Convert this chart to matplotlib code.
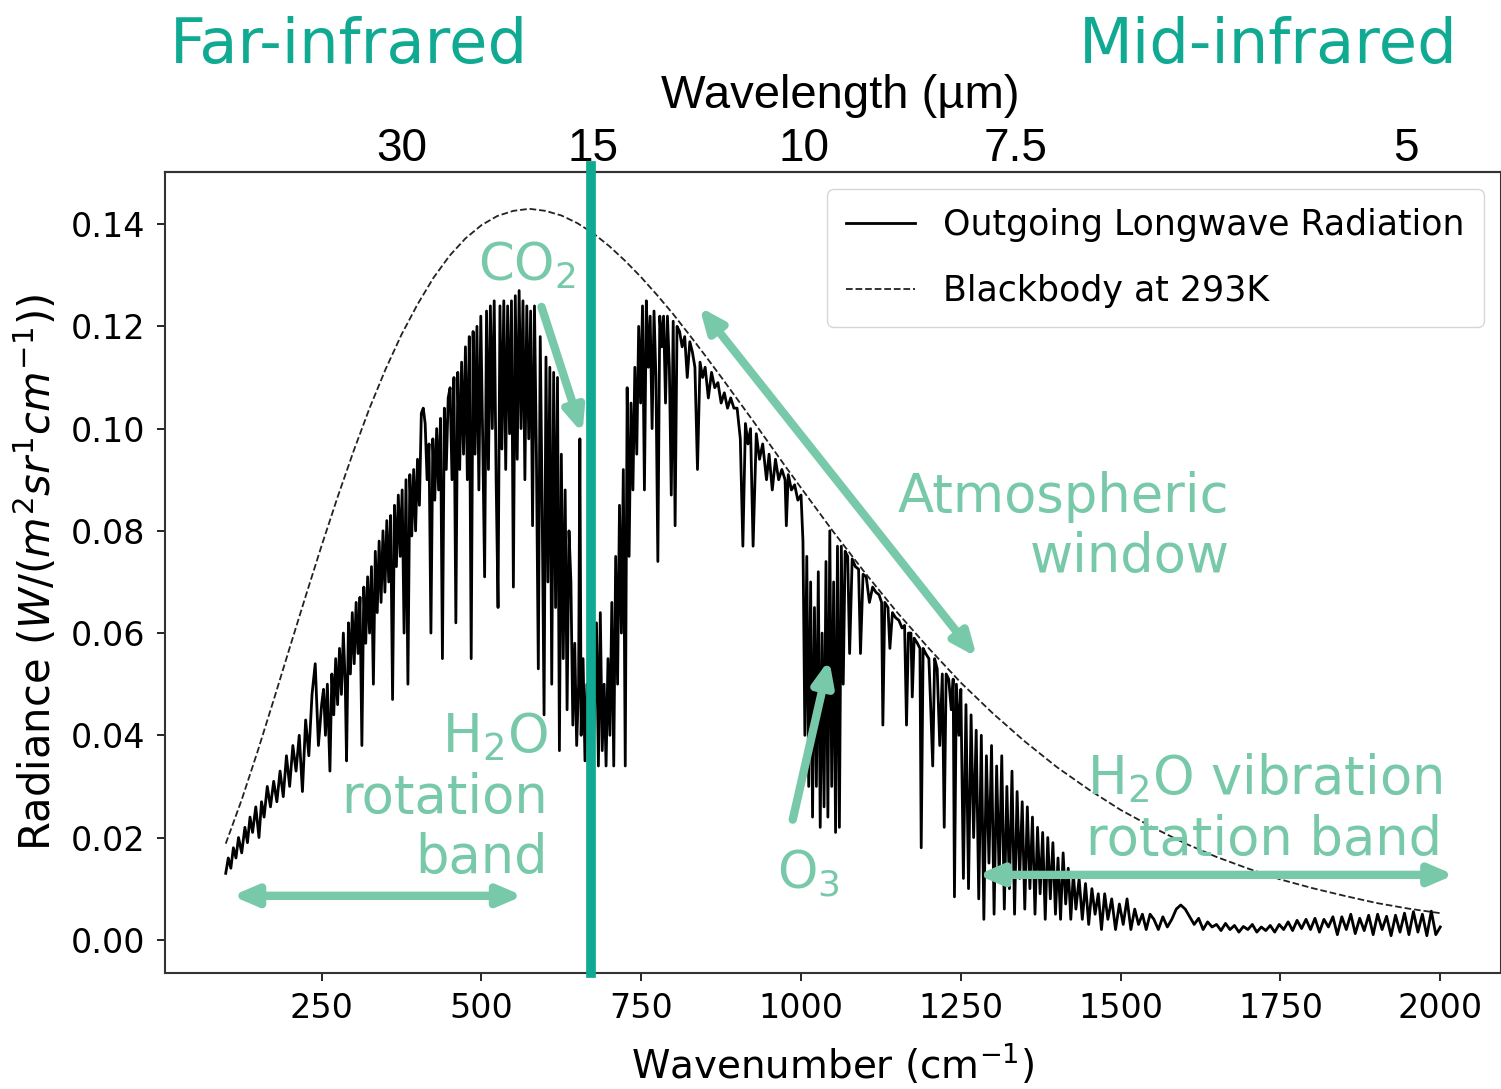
import numpy as np
import matplotlib
matplotlib.use("Agg")
import matplotlib.pyplot as plt

# ---- values ----
# blackbody at 293 K, W/(m^2 sr cm^-1)
bb_wn = list(range(100, 1000, 25)) + list(range(1000, 2001, 50))
bb_rad = [0.0188, 0.0274, 0.0369, 0.0469, 0.0571, 0.0672, 0.0771, 0.0866,
          0.0956, 0.1040, 0.1116, 0.1184, 0.1243, 0.1295, 0.1338, 0.1372,
          0.1398, 0.1416, 0.1426, 0.1430, 0.1426, 0.1417, 0.1402, 0.1382,
          0.1357, 0.1328, 0.1296, 0.1261, 0.1224, 0.1184, 0.1143, 0.1101,
          0.1058, 0.1015, 0.0971, 0.0927,
          0.0884, 0.0799, 0.0718, 0.0641, 0.0570, 0.0503,
          0.0443, 0.0388, 0.0338, 0.0294, 0.0254, 0.0220, 0.0189, 0.0162,
          0.0139, 0.0118, 0.0101, 0.0086, 0.0072, 0.0061, 0.0052]

# outgoing longwave radiation spectrum, split by band
far_wn = [100, 104, 108, 112, 116, 120, 125, 130, 134, 138, 142, 147, 152, 156, 160,
          165, 170, 175, 180, 185, 190, 195, 200, 205, 210, 215, 220, 225, 230, 235,
          240, 245, 250]
far_rad = [0.013, 0.016, 0.014, 0.018, 0.016, 0.020, 0.017, 0.022, 0.019, 0.024, 0.021,
           0.026, 0.020, 0.027, 0.024, 0.030, 0.026, 0.031, 0.027, 0.033, 0.028, 0.036,
           0.030, 0.038, 0.033, 0.040, 0.029, 0.043, 0.036, 0.048, 0.054, 0.038, 0.046]

rot_wn = [253, 256, 259, 263, 266, 269, 272, 275, 278, 281,
          284, 287, 289, 292, 295, 298, 301, 304, 307, 310,
          313, 316, 319, 322, 325, 328, 331, 334, 337, 340,
          343, 346, 349, 352, 355, 358, 361, 364, 367, 370,
          373, 376, 379, 382, 385, 388, 391, 394, 397, 400,
          403, 406, 409, 412, 415, 418, 421, 424, 427, 430,
          433, 436, 439, 442, 445, 448]
rot_rad = [0.049, 0.040, 0.050, 0.033, 0.052, 0.044, 0.055, 0.046, 0.057, 0.048,
           0.060, 0.050, 0.035, 0.062, 0.052, 0.064, 0.054, 0.066, 0.056, 0.067,
           0.038, 0.069, 0.058, 0.071, 0.060, 0.073, 0.050, 0.076, 0.064, 0.078,
           0.066, 0.080, 0.068, 0.082, 0.070, 0.083, 0.047, 0.085, 0.073, 0.087,
           0.075, 0.088, 0.060, 0.090, 0.050, 0.091, 0.079, 0.092, 0.080, 0.094,
           0.085, 0.103, 0.104, 0.101, 0.090, 0.097, 0.060, 0.098, 0.086, 0.100,
           0.088, 0.102, 0.055, 0.104, 0.092, 0.106]

peak_wn = list(range(451, 641, 3))
peak_rad = [0.108, 0.090, 0.110, 0.062, 0.111, 0.092, 0.113, 0.095, 0.116, 0.090,
            0.118, 0.055, 0.119, 0.095, 0.120, 0.088, 0.122, 0.098, 0.071, 0.123,
            0.092, 0.124, 0.100, 0.125, 0.090, 0.065, 0.124, 0.096, 0.125, 0.092,
            0.124, 0.099, 0.125, 0.069, 0.126, 0.094, 0.127, 0.100, 0.125, 0.090,
            0.124, 0.098, 0.123, 0.081, 0.124, 0.095, 0.053, 0.118, 0.085, 0.044,
            0.114, 0.070, 0.112, 0.050, 0.111, 0.065, 0.110, 0.037, 0.095, 0.055,
            0.088, 0.045, 0.080, 0.070]

co2_wn = [643, 646, 649, 652, 654, 656, 659, 662, 665, 668, 671, 674, 677, 680, 683,
          686, 689, 692, 695, 698, 701, 704, 707, 710, 713, 716, 719, 722, 725, 728,
          731, 734, 737, 740, 743, 746, 749, 752, 755, 758, 761]
co2_rad = [0.042, 0.058, 0.038, 0.050, 0.098, 0.040, 0.055, 0.035, 0.050, 0.036,
           0.060, 0.034, 0.045, 0.062, 0.034, 0.064, 0.037, 0.050, 0.034, 0.055,
           0.040, 0.066, 0.034, 0.075, 0.050, 0.085, 0.060, 0.092, 0.034, 0.108,
           0.075, 0.105, 0.088, 0.112, 0.095, 0.120, 0.105, 0.124, 0.088, 0.125,
           0.112]

win_wn = [764, 767, 770, 773, 776, 779, 782, 785, 788, 791, 794, 797, 800, 803, 806,
          810, 814, 818, 822, 826, 830, 834, 838, 842, 846, 850,
          855, 860, 865, 870, 875, 880, 885, 890, 895, 900, 905,
          909, 913, 917, 921, 925, 930, 935, 940,
          946, 950, 955, 960, 965, 970, 975, 977, 980, 985, 990, 995, 1000]
win_rad = [0.122, 0.100, 0.123, 0.110, 0.074, 0.122, 0.116, 0.122, 0.105, 0.122,
           0.112, 0.087, 0.121, 0.081, 0.120,
           0.119, 0.116, 0.118, 0.110, 0.117, 0.115, 0.112, 0.092, 0.113, 0.110, 0.112,
           0.106, 0.111, 0.108, 0.109, 0.105, 0.107, 0.104, 0.106, 0.104, 0.104, 0.098,
           0.077, 0.101, 0.097, 0.100, 0.077, 0.099, 0.094, 0.097,
           0.090, 0.095, 0.088, 0.094, 0.090, 0.092, 0.090, 0.081, 0.091, 0.088, 0.089,
           0.086, 0.087]

o3_wn = [1003, 1006, 1009, 1012, 1015, 1018, 1021, 1024, 1027, 1030, 1033, 1036,
         1039, 1042, 1045, 1048, 1051, 1054, 1057, 1060, 1063, 1066, 1069]
o3_rad = [0.078, 0.040, 0.075, 0.030, 0.070, 0.024, 0.065, 0.030, 0.072, 0.022,
          0.060, 0.026, 0.074, 0.024, 0.080, 0.030, 0.070, 0.021, 0.077, 0.022,
          0.077, 0.050, 0.076]

win2_wn = [1073, 1076, 1080, 1085, 1090, 1093, 1097, 1102, 1107, 1112, 1117, 1122,
           1126, 1128, 1131, 1136, 1139, 1143, 1148, 1153, 1158, 1162, 1165, 1168,
           1172, 1174, 1177, 1182, 1186, 1188, 1191, 1195, 1200, 1203, 1206, 1209,
           1213, 1217, 1221, 1224, 1227, 1231, 1235, 1238, 1240, 1243, 1247, 1250]
win2_rad = [0.075, 0.056, 0.0745, 0.073, 0.0725, 0.056, 0.0715, 0.071, 0.066, 0.069,
            0.068, 0.0675, 0.066, 0.042, 0.066, 0.065, 0.057, 0.064, 0.063, 0.0625,
            0.061, 0.0615, 0.042, 0.060, 0.060, 0.0475, 0.059, 0.058, 0.057, 0.018,
            0.057, 0.056, 0.055, 0.045, 0.034, 0.055, 0.053, 0.038, 0.052, 0.022,
            0.052, 0.051, 0.045, 0.051, 0.0084, 0.050, 0.040, 0.049]

h2o_wn = [1254, 1258, 1262, 1266, 1270, 1274, 1278, 1282, 1286, 1290, 1294, 1298,
          1302, 1306, 1310, 1314, 1318, 1322, 1326, 1330, 1334, 1338, 1342, 1346,
          1350, 1354, 1358, 1362, 1366, 1370, 1374, 1378, 1382, 1386, 1390, 1394,
          1398, 1402, 1406, 1410, 1414, 1418, 1422, 1426, 1430,
          1435, 1440, 1445, 1450, 1455, 1460, 1465, 1470, 1475, 1480,
          1486, 1492, 1498, 1504, 1510, 1516, 1522, 1528, 1534, 1540, 1546]
h2o_rad = [0.012, 0.046, 0.010, 0.044, 0.020, 0.041, 0.008, 0.040, 0.004, 0.036,
           0.015, 0.038, 0.005, 0.034, 0.012, 0.036, 0.006, 0.030, 0.010, 0.033,
           0.005, 0.029, 0.012, 0.027, 0.006, 0.026, 0.010, 0.024, 0.005, 0.022,
           0.009, 0.021, 0.004, 0.020, 0.008, 0.019, 0.005, 0.016, 0.004, 0.017,
           0.007, 0.014, 0.004, 0.013, 0.006,
           0.012, 0.004, 0.011, 0.003, 0.010, 0.005, 0.009, 0.002, 0.009, 0.004,
           0.008, 0.002, 0.007, 0.003, 0.008, 0.002, 0.006, 0.003, 0.005, 0.002, 0.005]

tail_wn = list(range(1552, 2001, 7))
tail_rad = [0.004, 0.002, 0.0045, 0.0025, 0.004, 0.006, 0.0068, 0.006, 0.0045, 0.003,
            0.0042, 0.002, 0.0035, 0.0025, 0.003, 0.0018, 0.0032, 0.002, 0.0028, 0.0015,
            0.0026, 0.002, 0.003, 0.0015, 0.0025, 0.0018, 0.0028, 0.0015, 0.003, 0.002,
            0.0035, 0.0018, 0.0038, 0.0022, 0.004, 0.002, 0.0042, 0.0015, 0.004, 0.0025,
            0.0045, 0.001, 0.0045, 0.002, 0.005, 0.0012, 0.0042, 0.0018, 0.0048, 0.001,
            0.005, 0.002, 0.0046, 0.0008, 0.0048, 0.0015, 0.0052, 0.001, 0.0055, 0.0015,
            0.005, 0.0008, 0.0056, 0.001, 0.0025]

# 15 um marker line and top wavelength labels
co2_line_wn = 671
wl_labels = ['30', '15', '10', '7.5', '5']
wl_label_pos = [375, 674, 1004, 1336, 1947]

teal = '#10aa92'
mint = '#78c9a9'

wn = np.concatenate([far_wn, rot_wn, peak_wn, co2_wn, win_wn, o3_wn, win2_wn, h2o_wn, tail_wn])
rad = np.concatenate([far_rad, rot_rad, peak_rad, co2_rad, win_rad, o3_rad, win2_rad,
                      h2o_rad, tail_rad])

plt.rcParams['font.family'] = 'DejaVu Sans'

fig = plt.figure(figsize=(15.01, 10.89), dpi=100)
ax = fig.add_axes([165 / 1501, 1 - 973 / 1089, 1336 / 1501, 801 / 1089])

ax.plot(wn, rad, color='black', lw=2.0, label='Outgoing Longwave Radiation')
ax.plot(bb_wn, bb_rad, color='#222222', lw=1.3, ls='--', label='Blackbody at 293K')
ax.axvline(co2_line_wn, ymin=0, ymax=1.008, color=teal, lw=7, zorder=4, clip_on=False)

ax.set_xlim(5, 2095)
ax.set_ylim(-0.0065, 0.1502)
ax.set_xticks([250, 500, 750, 1000, 1250, 1500, 1750, 2000])
ax.set_yticks([0, 0.02, 0.04, 0.06, 0.08, 0.10, 0.12, 0.14])
ax.tick_params(labelsize=24, length=6, width=1.2, pad=8)
for s in ax.spines.values():
    s.set_color('#333333')
    s.set_linewidth(1.5)

ax.set_xlabel(r'Wavenumber (cm$^{-1}$)', fontsize=28, labelpad=12)
ax.set_ylabel(r'Radiance ($W/(m^2sr^1cm^{-1})$)', fontsize=30, labelpad=8)

ax.legend(loc='upper right', fontsize=25, labelspacing=0.9, borderpad=0.55,
          handlelength=2.0)

# top axis with wavelength labels
sec = ax.secondary_xaxis('top')
sec.set_xticks(wl_label_pos, labels=wl_labels)
sec.tick_params(length=0, labelsize=33, pad=1, labelfontfamily='Liberation Sans')
sec.spines['top'].set_color('#333333')
sec.spines['top'].set_linewidth(1.5)

fig.text(0.560, 0.901, 'Wavelength (µm)', fontsize=34, family='Liberation Sans',
         ha='center', va='baseline')
fig.text(0.1133, 0.942, 'Far-infrared', fontsize=45, color=teal, va='baseline')
fig.text(0.9713, 0.942, 'Mid-infrared', fontsize=45, color=teal, ha='right', va='baseline')

# annotations (y = baseline of the last line)
ax.text(494, 0.129, 'CO$_2$', fontsize=37, color=mint, va='baseline')
ax.text(604, 0.0131, 'H$_2$O\nrotation\nband', fontsize=38, color=mint,
        ha='right', va='baseline', multialignment='right')
ax.text(1670, 0.072, 'Atmospheric\nwindow', fontsize=38, color=mint,
        ha='right', va='baseline', multialignment='right')
ax.text(2003, 0.0166, 'H$_2$O vibration\nrotation band', fontsize=38, color=mint,
        ha='right', va='baseline', multialignment='right')
ax.text(962, 0.0102, 'O$_3$', fontsize=37, color=mint, va='baseline')

one_way = dict(arrowstyle='-|>,head_length=1.4,head_width=0.6', mutation_scale=10,
               lw=6, color=mint, shrinkA=0, shrinkB=0)
two_way = dict(arrowstyle='<|-|>,head_length=1.4,head_width=0.6', mutation_scale=10,
               lw=6, color=mint, shrinkA=0, shrinkB=0)
ax.annotate('', xy=(658, 0.0991), xytext=(594, 0.1238), arrowprops=one_way, zorder=5)
ax.annotate('', xy=(1044, 0.0548), xytext=(987, 0.0235), arrowprops=one_way, zorder=5)
ax.annotate('', xy=(1275, 0.0553), xytext=(841, 0.1238), arrowprops=two_way, zorder=5)
ax.annotate('', xy=(565, 0.0086), xytext=(110, 0.0086), arrowprops=two_way, zorder=5)
ax.annotate('', xy=(2022, 0.0127), xytext=(1276, 0.0127), arrowprops=two_way,
            zorder=5, annotation_clip=False)

fig.savefig('out.png', dpi=100)
